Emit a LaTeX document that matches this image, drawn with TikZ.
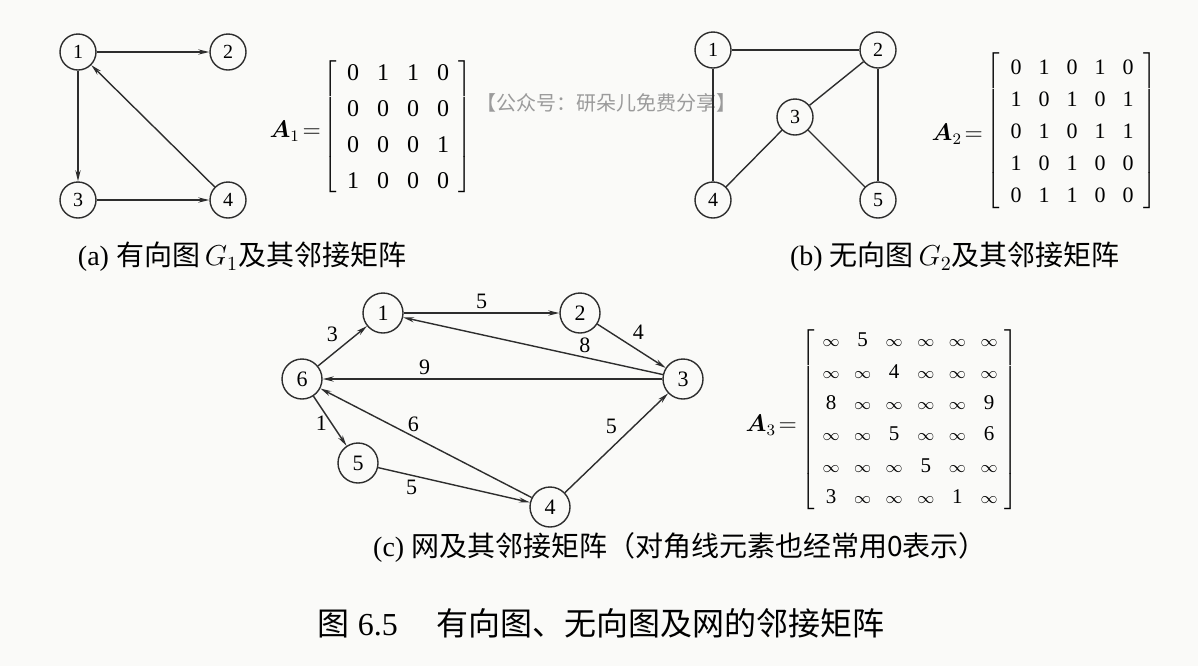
\documentclass[tikz,border=0pt]{standalone}
\usepackage{amsmath, amssymb}
\usepackage{fontspec}
\setmainfont{Liberation Serif}
\newfontfamily\cjk{Noto Sans CJK SC}
\usetikzlibrary{matrix}
\usetikzlibrary{arrows.meta}
\definecolor{paper}{RGB}{250,250,248}
\definecolor{ink}{RGB}{45,45,45}
\definecolor{wmark}{RGB}{155,155,155}
\newcommand{\infsym}{\mbox{\fontsize{8.5}{10}\selectfont$\infty$}}
\tikzset{
  vtx/.style={circle, draw=ink, line width=0.7pt, inner sep=0pt, minimum size=18pt, font=\fontsize{10}{12}\selectfont},
  bigvtx/.style={vtx, minimum size=20pt, font=\fontsize{11}{13}\selectfont},
  darc/.style={draw=ink, line width=0.7pt, -{Stealth[length=5.5pt,width=2.6pt]}},
  ulink/.style={draw=ink, line width=0.7pt},
  wt/.style={font=\fontsize{11}{13}\selectfont, inner sep=2pt},
  mtx/.style={matrix of nodes, left delimiter={[}, right delimiter={]}, inner sep=1.5pt},
  captxt/.style={font=\fontsize{14}{17}\selectfont}
}

\begin{document}
\begin{tikzpicture}[x=0.5pt, y=-0.5pt]
    \fill[paper] (0,0) rectangle (1198,666);
    \useasboundingbox (0,0) rectangle (1198,666);

    % (a) directed graph
    \node[vtx] (a1) at (78,52)  {1};
    \node[vtx] (a2) at (228,52) {2};
    \node[vtx] (a3) at (78,200) {3};
    \node[vtx] (a4) at (228,200) {4};
    \draw[darc] (a1) -- (a2);
    \draw[darc] (a1) -- (a3);
    \draw[darc] (a3) -- (a4);
    \draw[darc] (a4) -- (a1);
     \matrix (mat1) at (398,127) [%
       mtx, font=\fontsize{12}{14}\selectfont,
       column sep=5pt, row sep=6pt,
       nodes={minimum width=10pt, minimum height=12pt, inner sep=0pt}
     ]
      {%
        0 & 1 & 1 & 0 \\
        0 & 0 & 0 & 0 \\
        0 & 0 & 0 & 1 \\
        1 & 0 & 0 & 0 \\
      };
    \node[anchor=east, font=\fontsize{11.5}{13}\selectfont] (lbl1) at (328,131) {$\boldsymbol{A}_1\!=$};
    \node[anchor=west, text=wmark, font=\cjk\fontsize{10}{12}\selectfont, inner sep=0pt] (wm) at (476,103) {【公众号：研朵儿免费分享】};
    \node[captxt] (capa) at (242,257) {(a) {\cjk 有向图}$\,G_1${\cjk 及其邻接矩阵}};

    % (b) undirected graph
    \node[vtx] (b1) at (713,50)  {1};
    \node[vtx] (b2) at (878,50)  {2};
    \node[vtx] (b3) at (795,117) {3};
    \node[vtx] (b4) at (713,200) {4};
    \node[vtx] (b5) at (878,200) {5};
    \draw[ulink] (b1) -- (b2);
    \draw[ulink] (b1) -- (b4);
    \draw[ulink] (b2) -- (b3);
    \draw[ulink] (b2) -- (b5);
    \draw[ulink] (b3) -- (b4);
    \draw[ulink] (b3) -- (b5);
     \matrix (mat2) at (1072,131) [%
       mtx, font=\fontsize{11}{13}\selectfont,
       column sep=4pt, row sep=5pt,
       nodes={minimum width=10pt, minimum height=11pt, inner sep=0pt}
     ]
      {%
        0 & 1 & 0 & 1 & 0 \\
        1 & 0 & 1 & 0 & 1 \\
        0 & 1 & 0 & 1 & 1 \\
        1 & 0 & 1 & 0 & 0 \\
        0 & 1 & 1 & 0 & 0 \\
      };
    \node[anchor=east, font=\fontsize{11.5}{13}\selectfont] (lbl2) at (990,134) {$\boldsymbol{A}_2\!=$};
    \node[captxt] (capb) at (955,257) {(b) {\cjk 无向图}$\,G_2${\cjk 及其邻接矩阵}};

    % (c) network
    \node[bigvtx] (c1) at (383,313) {1};
    \node[bigvtx] (c2) at (580,313) {2};
    \node[bigvtx] (c3) at (683,379) {3};
    \node[bigvtx] (c4) at (550,507) {4};
    \node[bigvtx] (c5) at (358,463) {5};
    \node[bigvtx] (c6) at (302,379) {6};
    \draw[darc] (c1) -- node[wt, above] {5} (c2);
    \draw[darc] (c2) -- node[wt, above right, pos=0.45] {4} (c3);
    \draw[darc] (c3) -- node[wt, above, pos=0.3] {8} (c1);
    \draw[darc] (c3) -- node[wt, above, pos=0.7] {9} (c6);
    \draw[darc] (c6) -- node[wt, above left] {3} (c1);
    \draw[darc] (c4) -- node[wt, above, pos=0.56] {6} (c6);
    \draw[darc] (c6) -- node[wt, left, pos=0.55] {1} (c5);
    \draw[darc] (c5) -- node[wt, below, pos=0.22] {5} (c4);
    \draw[darc] (c4) -- node[wt, above left, pos=0.55] {5} (c3);
     \matrix (mat3) at (910,420) [%
       mtx, font=\fontsize{10.5}{12}\selectfont,
       column sep=5.8pt, row sep=4pt,
       nodes={minimum width=10pt, minimum height=10pt, inner sep=0pt}
     ]
      {%
        \infsym & 5 & \infsym & \infsym & \infsym & \infsym \\
        \infsym & \infsym & 4 & \infsym & \infsym & \infsym \\
        8 & \infsym & \infsym & \infsym & \infsym & 9 \\
        \infsym & \infsym & 5 & \infsym & \infsym & 6 \\
        \infsym & \infsym & \infsym & 5 & \infsym & \infsym \\
        3 & \infsym & \infsym & \infsym & 1 & \infsym \\
      };
    \node[anchor=east, font=\fontsize{11.5}{13}\selectfont] (lbl3) at (804,425) {$\boldsymbol{A}_3\!=$};
    \node[captxt] (capc) at (680,547) {(c) {\cjk 网及其邻接矩阵（对角线元素也经常用0表示）}};

    % figure caption
    \node[font=\fontsize{16}{19}\selectfont] (cap) at (601,623) {{\cjk 图} 6.5\hspace{1.2em}{\cjk 有向图、无向图及网的邻接矩阵}};
\end{tikzpicture}
\end{document}
